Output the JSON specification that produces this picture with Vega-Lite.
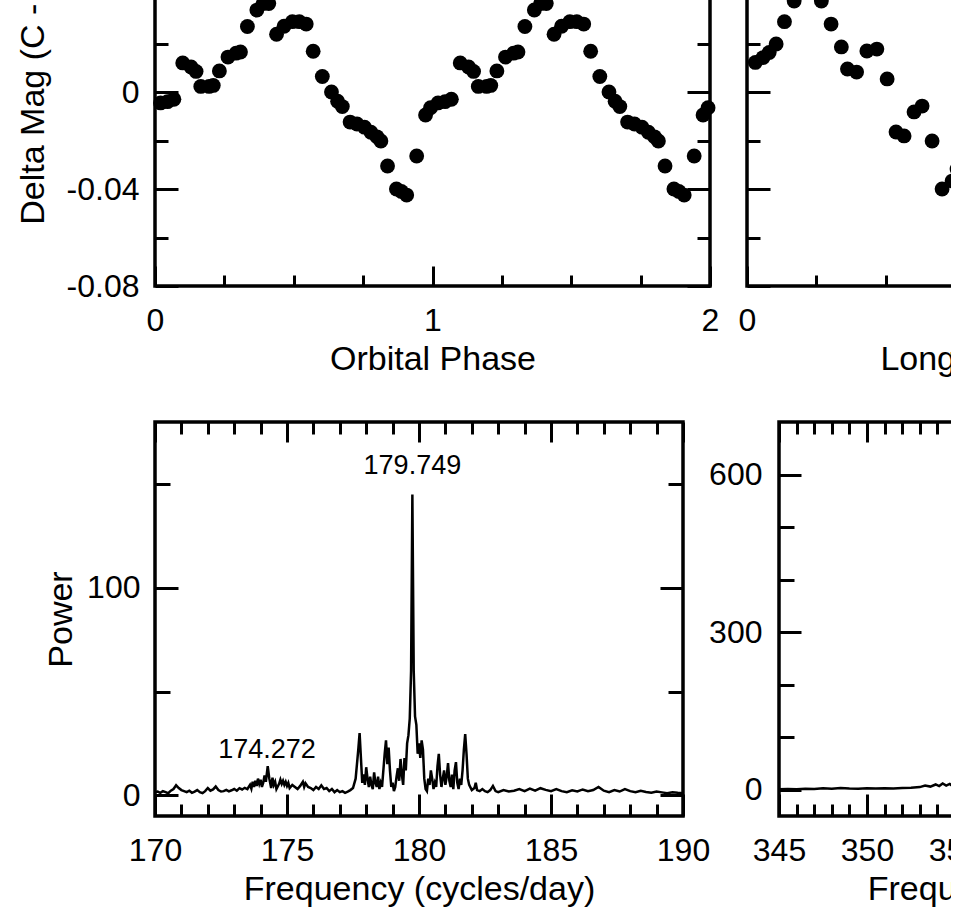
{
  "$schema": "https://vega.github.io/schema/vega-lite/v6.json",
  "autosize": {"type": "pad"},
  "padding": {"left": 14, "top": -106, "right": -385, "bottom": 0},
  "background": "white",
  "config": {
    "font": "Liberation Sans",
    "view": {"stroke": "black", "strokeWidth": 3.5},
    "axis": {
      "domain": false, "grid": false, "tickColor": "black", "tickWidth": 3,
      "labelFont": "Liberation Sans", "labelFontSize": 32, "labelColor": "black",
      "labelFlush": false, "labelOverlap": false,
      "titleFont": "Liberation Sans", "titleFontSize": 34, "titleFontWeight": "normal", "titleColor": "black"
    }
  },
  "datasets": {
    "orbital": [
      {"phase": 0.02, "mag": -0.0045}, {"phase": 0.045, "mag": -0.004}, {"phase": 0.068, "mag": -0.003},
      {"phase": 0.1, "mag": 0.012}, {"phase": 0.13, "mag": 0.0103}, {"phase": 0.148, "mag": 0.0085},
      {"phase": 0.165, "mag": 0.0023}, {"phase": 0.195, "mag": 0.0023}, {"phase": 0.21, "mag": 0.0027},
      {"phase": 0.232, "mag": 0.0087}, {"phase": 0.263, "mag": 0.0144}, {"phase": 0.292, "mag": 0.016},
      {"phase": 0.308, "mag": 0.0165}, {"phase": 0.333, "mag": 0.027}, {"phase": 0.367, "mag": 0.0338},
      {"phase": 0.39, "mag": 0.0365}, {"phase": 0.41, "mag": 0.0365}, {"phase": 0.438, "mag": 0.0238},
      {"phase": 0.465, "mag": 0.0271}, {"phase": 0.495, "mag": 0.029}, {"phase": 0.52, "mag": 0.029},
      {"phase": 0.545, "mag": 0.028}, {"phase": 0.57, "mag": 0.0168}, {"phase": 0.603, "mag": 0.0064},
      {"phase": 0.636, "mag": 0.0}, {"phase": 0.658, "mag": -0.0038}, {"phase": 0.675, "mag": -0.006},
      {"phase": 0.703, "mag": -0.0124}, {"phase": 0.728, "mag": -0.0132}, {"phase": 0.755, "mag": -0.0145},
      {"phase": 0.778, "mag": -0.0166}, {"phase": 0.8, "mag": -0.0185}, {"phase": 0.814, "mag": -0.0202},
      {"phase": 0.838, "mag": -0.0305}, {"phase": 0.87, "mag": -0.04}, {"phase": 0.888, "mag": -0.041},
      {"phase": 0.907, "mag": -0.0425}, {"phase": 0.943, "mag": -0.0264}, {"phase": 0.975, "mag": -0.0095},
      {"phase": 0.993, "mag": -0.0065},
      {"phase": 1.02, "mag": -0.0045}, {"phase": 1.045, "mag": -0.004}, {"phase": 1.068, "mag": -0.003},
      {"phase": 1.1, "mag": 0.012}, {"phase": 1.13, "mag": 0.0103}, {"phase": 1.148, "mag": 0.0085},
      {"phase": 1.165, "mag": 0.0023}, {"phase": 1.195, "mag": 0.0023}, {"phase": 1.21, "mag": 0.0027},
      {"phase": 1.232, "mag": 0.0087}, {"phase": 1.263, "mag": 0.0144}, {"phase": 1.292, "mag": 0.016},
      {"phase": 1.308, "mag": 0.0165}, {"phase": 1.333, "mag": 0.027}, {"phase": 1.367, "mag": 0.0338},
      {"phase": 1.39, "mag": 0.0365}, {"phase": 1.41, "mag": 0.0365}, {"phase": 1.438, "mag": 0.0238},
      {"phase": 1.465, "mag": 0.0271}, {"phase": 1.495, "mag": 0.029}, {"phase": 1.52, "mag": 0.029},
      {"phase": 1.545, "mag": 0.028}, {"phase": 1.57, "mag": 0.0168}, {"phase": 1.603, "mag": 0.0064},
      {"phase": 1.636, "mag": 0.0}, {"phase": 1.658, "mag": -0.0038}, {"phase": 1.675, "mag": -0.006},
      {"phase": 1.703, "mag": -0.0124}, {"phase": 1.728, "mag": -0.0132}, {"phase": 1.755, "mag": -0.0145},
      {"phase": 1.778, "mag": -0.0166}, {"phase": 1.8, "mag": -0.0185}, {"phase": 1.814, "mag": -0.0202},
      {"phase": 1.838, "mag": -0.0305}, {"phase": 1.87, "mag": -0.04}, {"phase": 1.888, "mag": -0.041},
      {"phase": 1.907, "mag": -0.0425}, {"phase": 1.943, "mag": -0.0264}, {"phase": 1.975, "mag": -0.0095},
      {"phase": 1.993, "mag": -0.0065}
    ],
    "longphase": [
      {"phase": 0.03, "mag": 0.0122}, {"phase": 0.058, "mag": 0.0142}, {"phase": 0.08, "mag": 0.0163},
      {"phase": 0.105, "mag": 0.0198}, {"phase": 0.135, "mag": 0.029}, {"phase": 0.17, "mag": 0.0375},
      {"phase": 0.268, "mag": 0.0375}, {"phase": 0.303, "mag": 0.028}, {"phase": 0.34, "mag": 0.0186},
      {"phase": 0.362, "mag": 0.0095}, {"phase": 0.395, "mag": 0.0082}, {"phase": 0.432, "mag": 0.0169},
      {"phase": 0.468, "mag": 0.0177}, {"phase": 0.505, "mag": 0.0054}, {"phase": 0.537, "mag": -0.0165},
      {"phase": 0.566, "mag": -0.0181}, {"phase": 0.602, "mag": -0.0082}, {"phase": 0.631, "mag": -0.0058},
      {"phase": 0.667, "mag": -0.0202}, {"phase": 0.703, "mag": -0.04}, {"phase": 0.739, "mag": -0.0367},
      {"phase": 0.757, "mag": -0.0318}
    ],
    "power1": [
      {"freq": 170.0, "power": 1.5}, {"freq": 170.1, "power": 1.8}, {"freq": 170.2, "power": 1.2}, {"freq": 170.3, "power": 2.0},
      {"freq": 170.4, "power": 1.5}, {"freq": 170.5, "power": 1.0}, {"freq": 170.6, "power": 2.2}, {"freq": 170.7, "power": 3.0},
      {"freq": 170.8, "power": 4.8}, {"freq": 170.9, "power": 3.5}, {"freq": 171.0, "power": 2.5}, {"freq": 171.1, "power": 2.0},
      {"freq": 171.2, "power": 1.5}, {"freq": 171.3, "power": 2.2}, {"freq": 171.4, "power": 1.2}, {"freq": 171.5, "power": 1.8},
      {"freq": 171.6, "power": 2.5}, {"freq": 171.7, "power": 1.5}, {"freq": 171.8, "power": 1.0}, {"freq": 171.9, "power": 2.0},
      {"freq": 172.0, "power": 3.5}, {"freq": 172.1, "power": 2.2}, {"freq": 172.2, "power": 2.8}, {"freq": 172.3, "power": 4.2},
      {"freq": 172.4, "power": 2.5}, {"freq": 172.5, "power": 1.8}, {"freq": 172.6, "power": 2.0}, {"freq": 172.7, "power": 2.6},
      {"freq": 172.8, "power": 1.9}, {"freq": 172.9, "power": 2.4}, {"freq": 173.0, "power": 3.0}, {"freq": 173.1, "power": 2.2},
      {"freq": 173.2, "power": 3.4}, {"freq": 173.3, "power": 2.8}, {"freq": 173.4, "power": 3.6}, {"freq": 173.5, "power": 3.0},
      {"freq": 173.6, "power": 5.0}, {"freq": 173.65, "power": 3.2}, {"freq": 173.7, "power": 6.5}, {"freq": 173.75, "power": 4.0},
      {"freq": 173.8, "power": 7.0}, {"freq": 173.85, "power": 4.5}, {"freq": 173.9, "power": 8.0}, {"freq": 173.95, "power": 5.5},
      {"freq": 174.0, "power": 7.5}, {"freq": 174.05, "power": 4.0}, {"freq": 174.1, "power": 6.0}, {"freq": 174.15, "power": 9.5},
      {"freq": 174.2, "power": 6.5}, {"freq": 174.27, "power": 14.0}, {"freq": 174.33, "power": 8.0}, {"freq": 174.4, "power": 3.5},
      {"freq": 174.45, "power": 8.5}, {"freq": 174.5, "power": 5.0}, {"freq": 174.55, "power": 6.5}, {"freq": 174.6, "power": 3.0},
      {"freq": 174.7, "power": 5.5}, {"freq": 174.75, "power": 7.5}, {"freq": 174.8, "power": 5.5}, {"freq": 174.85, "power": 7.0},
      {"freq": 174.9, "power": 5.0}, {"freq": 174.95, "power": 6.5}, {"freq": 175.0, "power": 4.5}, {"freq": 175.05, "power": 6.0},
      {"freq": 175.1, "power": 3.5}, {"freq": 175.2, "power": 5.0}, {"freq": 175.3, "power": 4.0}, {"freq": 175.4, "power": 3.0},
      {"freq": 175.5, "power": 4.5}, {"freq": 175.6, "power": 6.5}, {"freq": 175.65, "power": 4.0}, {"freq": 175.7, "power": 5.8},
      {"freq": 175.8, "power": 4.0}, {"freq": 175.9, "power": 3.5}, {"freq": 176.0, "power": 2.5}, {"freq": 176.1, "power": 4.0},
      {"freq": 176.2, "power": 3.0}, {"freq": 176.3, "power": 4.8}, {"freq": 176.4, "power": 3.0}, {"freq": 176.5, "power": 3.5},
      {"freq": 176.6, "power": 2.0}, {"freq": 176.7, "power": 3.0}, {"freq": 176.8, "power": 1.5}, {"freq": 176.9, "power": 2.5},
      {"freq": 177.0, "power": 1.5}, {"freq": 177.1, "power": 2.0}, {"freq": 177.2, "power": 1.2}, {"freq": 177.3, "power": 1.8},
      {"freq": 177.4, "power": 2.5}, {"freq": 177.5, "power": 3.5}, {"freq": 177.6, "power": 8}, {"freq": 177.7, "power": 22},
      {"freq": 177.75, "power": 30}, {"freq": 177.8, "power": 18}, {"freq": 177.85, "power": 6}, {"freq": 177.9, "power": 10},
      {"freq": 177.95, "power": 5}, {"freq": 178.0, "power": 13.5}, {"freq": 178.05, "power": 8}, {"freq": 178.1, "power": 4},
      {"freq": 178.15, "power": 9}, {"freq": 178.2, "power": 5}, {"freq": 178.25, "power": 3}, {"freq": 178.3, "power": 11},
      {"freq": 178.35, "power": 6}, {"freq": 178.4, "power": 4}, {"freq": 178.45, "power": 9}, {"freq": 178.5, "power": 3},
      {"freq": 178.55, "power": 6}, {"freq": 178.6, "power": 4}, {"freq": 178.7, "power": 20}, {"freq": 178.75, "power": 26.5},
      {"freq": 178.8, "power": 15}, {"freq": 178.85, "power": 23}, {"freq": 178.9, "power": 12}, {"freq": 178.95, "power": 4},
      {"freq": 179.0, "power": 6}, {"freq": 179.05, "power": 2}, {"freq": 179.1, "power": 4}, {"freq": 179.15, "power": 9},
      {"freq": 179.2, "power": 13}, {"freq": 179.25, "power": 7}, {"freq": 179.3, "power": 17.5}, {"freq": 179.35, "power": 10},
      {"freq": 179.4, "power": 5}, {"freq": 179.45, "power": 18}, {"freq": 179.5, "power": 12}, {"freq": 179.55, "power": 25},
      {"freq": 179.6, "power": 29}, {"freq": 179.65, "power": 37}, {"freq": 179.7, "power": 60}, {"freq": 179.749, "power": 145},
      {"freq": 179.8, "power": 60}, {"freq": 179.85, "power": 38}, {"freq": 179.9, "power": 34}, {"freq": 179.95, "power": 20},
      {"freq": 180.0, "power": 25}, {"freq": 180.05, "power": 18}, {"freq": 180.1, "power": 26.5}, {"freq": 180.15, "power": 22},
      {"freq": 180.2, "power": 8}, {"freq": 180.25, "power": 3}, {"freq": 180.3, "power": 2}, {"freq": 180.35, "power": 8},
      {"freq": 180.4, "power": 5}, {"freq": 180.45, "power": 12}, {"freq": 180.5, "power": 8}, {"freq": 180.55, "power": 3},
      {"freq": 180.6, "power": 6}, {"freq": 180.65, "power": 4}, {"freq": 180.7, "power": 14}, {"freq": 180.75, "power": 20},
      {"freq": 180.8, "power": 10}, {"freq": 180.85, "power": 4}, {"freq": 180.9, "power": 8}, {"freq": 180.95, "power": 12},
      {"freq": 181.0, "power": 5}, {"freq": 181.05, "power": 9}, {"freq": 181.1, "power": 15.5}, {"freq": 181.15, "power": 7},
      {"freq": 181.2, "power": 4}, {"freq": 181.25, "power": 10}, {"freq": 181.3, "power": 3}, {"freq": 181.35, "power": 12},
      {"freq": 181.4, "power": 16}, {"freq": 181.45, "power": 6}, {"freq": 181.5, "power": 3}, {"freq": 181.55, "power": 8},
      {"freq": 181.6, "power": 5}, {"freq": 181.65, "power": 12}, {"freq": 181.7, "power": 22}, {"freq": 181.75, "power": 29.5},
      {"freq": 181.8, "power": 20}, {"freq": 181.85, "power": 8}, {"freq": 181.9, "power": 5}, {"freq": 182.0, "power": 2.5},
      {"freq": 182.1, "power": 3.5}, {"freq": 182.15, "power": 6.0}, {"freq": 182.2, "power": 2.5}, {"freq": 182.3, "power": 2.0},
      {"freq": 182.4, "power": 3.0}, {"freq": 182.5, "power": 2.0}, {"freq": 182.6, "power": 1.5}, {"freq": 182.7, "power": 2.5},
      {"freq": 182.8, "power": 4.5}, {"freq": 182.9, "power": 2.0}, {"freq": 183.0, "power": 1.5}, {"freq": 183.2, "power": 2.5},
      {"freq": 183.4, "power": 1.8}, {"freq": 183.6, "power": 2.2}, {"freq": 183.8, "power": 3.0}, {"freq": 184.0, "power": 2.0},
      {"freq": 184.2, "power": 3.2}, {"freq": 184.4, "power": 2.2}, {"freq": 184.6, "power": 3.4}, {"freq": 184.8, "power": 2.6},
      {"freq": 185.0, "power": 2.0}, {"freq": 185.2, "power": 3.0}, {"freq": 185.4, "power": 2.0}, {"freq": 185.6, "power": 1.5},
      {"freq": 185.8, "power": 2.4}, {"freq": 186.0, "power": 1.8}, {"freq": 186.2, "power": 2.8}, {"freq": 186.4, "power": 2.0},
      {"freq": 186.6, "power": 2.5}, {"freq": 186.8, "power": 4.0}, {"freq": 187.0, "power": 2.2}, {"freq": 187.2, "power": 1.5},
      {"freq": 187.4, "power": 2.5}, {"freq": 187.6, "power": 1.8}, {"freq": 187.8, "power": 3.0}, {"freq": 188.0, "power": 2.0},
      {"freq": 188.2, "power": 1.5}, {"freq": 188.4, "power": 2.2}, {"freq": 188.6, "power": 1.6}, {"freq": 188.8, "power": 1.2},
      {"freq": 189.0, "power": 1.8}, {"freq": 189.2, "power": 1.4}, {"freq": 189.4, "power": 1.0}, {"freq": 189.6, "power": 1.5},
      {"freq": 189.8, "power": 1.2}, {"freq": 190.0, "power": 1.0}
    ],
    "power2": [
      {"freq": 345.0, "power": 1}, {"freq": 345.5, "power": 1.5}, {"freq": 346.0, "power": 1}, {"freq": 346.5, "power": 2},
      {"freq": 347.0, "power": 1.5}, {"freq": 347.5, "power": 3}, {"freq": 348.0, "power": 2}, {"freq": 348.5, "power": 3.5},
      {"freq": 349.0, "power": 2.5}, {"freq": 349.5, "power": 2}, {"freq": 350.0, "power": 3}, {"freq": 350.5, "power": 2.5},
      {"freq": 351.0, "power": 3}, {"freq": 351.5, "power": 2.5}, {"freq": 352.0, "power": 3.5}, {"freq": 352.5, "power": 4},
      {"freq": 353.0, "power": 5}, {"freq": 353.3, "power": 8}, {"freq": 353.6, "power": 6}, {"freq": 353.9, "power": 10},
      {"freq": 354.1, "power": 7}, {"freq": 354.3, "power": 12}, {"freq": 354.5, "power": 8}, {"freq": 354.7, "power": 11},
      {"freq": 354.9, "power": 6}, {"freq": 355.2, "power": 5}, {"freq": 355.5, "power": 8}, {"freq": 356.0, "power": 6}
    ],
    "labels1": [
      {"freq": 179.749, "power": 159, "text": "179.749"},
      {"freq": 174.24, "power": 22, "text": "174.272"}
    ]
  },
  "spacing": 40,
  "vconcat": [
    {
      "spacing": 15,
      "hconcat": [
        {
          "width": 555, "height": 388,
          "data": {"name": "orbital"},
          "layer": [
            {
              "mark": {"type": "point", "filled": true, "size": 220, "color": "black", "opacity": 1},
              "encoding": {
                "x": {"field": "phase", "type": "quantitative", "scale": {"domain": [0, 2], "nice": false, "zero": false},
                  "axis": {"orient": "bottom", "values": [0, 1, 2], "labelExpr": "'' + datum.value", "labelOverlap": false, "tickSize": 20, "offset": -20, "labelPadding": 19, "title": "Orbital Phase", "titlePadding": 6}},
                "y": {"field": "mag", "type": "quantitative", "scale": {"domain": [-0.08, 0.08], "nice": false, "zero": false},
                  "axis": {"orient": "left", "values": [-0.08, -0.04, 0], "tickSize": 23, "offset": -23, "labelPadding": 16,
                    "labelExpr": "datum.value < 0 ? '-' + format(-datum.value, '.2f') : '0'",
                    "title": "Delta Mag (C - V)", "titlePadding": 16}}
              }
            },
            {
              "mark": {"type": "point", "opacity": 0},
              "encoding": {
                "x": {"field": "phase", "type": "quantitative", "axis": {"orient": "bottom", "values": [0.25, 0.5, 0.75, 1.25, 1.5, 1.75], "tickSize": 11, "offset": -11, "labels": false, "title": null}},
                "y": {"field": "mag", "type": "quantitative", "axis": {"orient": "left", "values": [-0.06, -0.02, 0.02, 0.06], "tickSize": 13, "offset": -13, "labels": false, "title": null}}
              }
            },
            {
              "mark": {"type": "point", "opacity": 0},
              "encoding": {
                "x": {"field": "phase", "type": "quantitative", "axis": {"orient": "top", "values": [0, 1, 2], "tickSize": 20, "offset": -20, "labels": false, "title": null}},
                "y": {"field": "mag", "type": "quantitative", "axis": {"orient": "right", "values": [-0.08, -0.04, 0, 0.04, 0.08], "tickSize": 23, "offset": -23, "labels": false, "title": null}}
              }
            },
            {
              "mark": {"type": "point", "opacity": 0},
              "encoding": {
                "x": {"field": "phase", "type": "quantitative", "axis": {"orient": "top", "values": [0.25, 0.5, 0.75, 1.25, 1.5, 1.75], "tickSize": 11, "offset": -11, "labels": false, "title": null}},
                "y": {"field": "mag", "type": "quantitative", "axis": {"orient": "right", "values": [-0.06, -0.02, 0.02, 0.06], "tickSize": 13, "offset": -13, "labels": false, "title": null}}
              }
            },
            {
              "mark": {"type": "point", "opacity": 0},
              "encoding": {
                "x": {"field": "phase", "type": "quantitative", "axis": null},
                "y": {"field": "mag", "type": "quantitative", "axis": {"orient": "left", "values": [0.04, 0.08], "tickSize": 23, "offset": -23, "labels": false, "title": null}}
              }
            }
          ],
          "resolve": {"axis": {"x": "independent", "y": "independent"}}
        },
        {
          "width": 555, "height": 388,
          "data": {"name": "longphase"},
          "layer": [
            {
              "mark": {"type": "point", "filled": true, "size": 220, "color": "black", "opacity": 1},
              "encoding": {
                "x": {"field": "phase", "type": "quantitative", "scale": {"domain": [0, 2], "nice": false, "zero": false},
                  "axis": {"orient": "bottom", "values": [0, 1, 2], "labelExpr": "'' + datum.value", "labelOverlap": false, "tickSize": 20, "offset": -20, "labelPadding": 19, "title": "Long Period Phase", "titlePadding": 6}},
                "y": {"field": "mag", "type": "quantitative", "scale": {"domain": [-0.08, 0.08], "nice": false, "zero": false},
                  "axis": {"orient": "left", "values": [-0.08, -0.04, 0, 0.04, 0.08], "tickSize": 23, "offset": -23, "labels": false, "title": null}}
              }
            },
            {
              "mark": {"type": "point", "opacity": 0},
              "encoding": {
                "x": {"field": "phase", "type": "quantitative", "axis": {"orient": "bottom", "values": [0.25, 0.5, 0.75, 1.25, 1.5, 1.75], "tickSize": 11, "offset": -11, "labels": false, "title": null}},
                "y": {"field": "mag", "type": "quantitative", "axis": {"orient": "left", "values": [-0.06, -0.02, 0.02, 0.06], "tickSize": 13, "offset": -13, "labels": false, "title": null}}
              }
            },
            {
              "mark": {"type": "point", "opacity": 0},
              "encoding": {
                "x": {"field": "phase", "type": "quantitative", "axis": {"orient": "top", "values": [0, 1, 2], "tickSize": 20, "offset": -20, "labels": false, "title": null}},
                "y": {"field": "mag", "type": "quantitative", "axis": {"orient": "right", "values": [-0.08, -0.04, 0, 0.04, 0.08], "tickSize": 23, "offset": -23, "labels": false, "title": null}}
              }
            },
            {
              "mark": {"type": "point", "opacity": 0},
              "encoding": {
                "x": {"field": "phase", "type": "quantitative", "axis": {"orient": "top", "values": [0.25, 0.5, 0.75, 1.25, 1.5, 1.75], "tickSize": 11, "offset": -11, "labels": false, "title": null}},
                "y": {"field": "mag", "type": "quantitative", "axis": {"orient": "right", "values": [-0.06, -0.02, 0.02, 0.06], "tickSize": 13, "offset": -13, "labels": false, "title": null}}
              }
            }
          ],
          "resolve": {"axis": {"x": "independent", "y": "independent"}}
        }
      ]
    },
    {
      "spacing": -6,
      "hconcat": [
        {
          "width": 528, "height": 394,
          "data": {"name": "power1"},
          "layer": [
            {
              "mark": {"type": "line", "color": "black", "strokeWidth": 2.5},
              "encoding": {
                "x": {"field": "freq", "type": "quantitative", "scale": {"domain": [170, 190], "nice": false, "zero": false},
                  "axis": {"orient": "bottom", "values": [170, 175, 180, 185, 190], "format": "d", "tickSize": 22, "offset": -22, "labelPadding": 19, "title": "Frequency (cycles/day)", "titlePadding": 6}},
                "y": {"field": "power", "type": "quantitative", "scale": {"domain": [-10, 180], "nice": false, "zero": false},
                  "axis": {"orient": "left", "values": [0, 100], "format": "d", "tickSize": 23, "offset": -23, "labelPadding": 15, "title": "Power", "titlePadding": 8}}
              }
            },
            {
              "mark": {"type": "line", "opacity": 0},
              "encoding": {
                "x": {"field": "freq", "type": "quantitative", "axis": {"orient": "bottom", "values": [171, 172, 173, 174, 176, 177, 178, 179, 181, 182, 183, 184, 186, 187, 188, 189], "tickSize": 12, "offset": -12, "labels": false, "title": null}},
                "y": {"field": "power", "type": "quantitative", "axis": {"orient": "left", "values": [50, 150], "tickSize": 15, "offset": -15, "labels": false, "title": null}}
              }
            },
            {
              "mark": {"type": "line", "opacity": 0},
              "encoding": {
                "x": {"field": "freq", "type": "quantitative", "axis": {"orient": "top", "values": [170, 175, 180, 185, 190], "tickSize": 20, "offset": -20, "labels": false, "title": null}},
                "y": {"field": "power", "type": "quantitative", "axis": {"orient": "right", "values": [0, 100], "tickSize": 23, "offset": -23, "labels": false, "title": null}}
              }
            },
            {
              "mark": {"type": "line", "opacity": 0},
              "encoding": {
                "x": {"field": "freq", "type": "quantitative", "axis": {"orient": "top", "values": [171, 172, 173, 174, 176, 177, 178, 179, 181, 182, 183, 184, 186, 187, 188, 189], "tickSize": 12, "offset": -12, "labels": false, "title": null}},
                "y": {"field": "power", "type": "quantitative", "axis": {"orient": "right", "values": [50, 150], "tickSize": 15, "offset": -15, "labels": false, "title": null}}
              }
            },
            {
              "data": {"name": "labels1"},
              "mark": {"type": "text", "font": "Liberation Sans", "fontSize": 27, "color": "black", "baseline": "middle", "align": "center"},
              "encoding": {
                "x": {"field": "freq", "type": "quantitative", "axis": null},
                "y": {"field": "power", "type": "quantitative", "axis": null},
                "text": {"field": "text"}
              }
            }
          ],
          "resolve": {"axis": {"x": "independent", "y": "independent"}}
        },
        {
          "width": 528, "height": 394,
          "data": {"name": "power2"},
          "layer": [
            {
              "mark": {"type": "line", "color": "black", "strokeWidth": 2.5},
              "encoding": {
                "x": {"field": "freq", "type": "quantitative", "scale": {"domain": [345, 375], "nice": false, "zero": false},
                  "axis": {"orient": "bottom", "values": [345, 350, 355, 360, 365, 370, 375], "format": "d", "tickSize": 22, "offset": -22, "labelPadding": 19, "title": "Frequency (cycles/day)", "titlePadding": 6}},
                "y": {"field": "power", "type": "quantitative", "scale": {"domain": [-50, 700], "nice": false, "zero": false},
                  "axis": {"orient": "left", "values": [0, 300, 600], "format": "d", "tickSize": 22, "offset": -22, "labelPadding": 17, "title": null}}
              }
            },
            {
              "mark": {"type": "line", "opacity": 0},
              "encoding": {
                "x": {"field": "freq", "type": "quantitative", "axis": {"orient": "bottom", "values": [346, 347, 348, 349, 351, 352, 353, 354, 356, 357, 358, 359, 361, 362, 363, 364, 366, 367, 368, 369, 371, 372, 373, 374], "tickSize": 12, "offset": -12, "labels": false, "title": null}},
                "y": {"field": "power", "type": "quantitative", "axis": {"orient": "left", "values": [100, 200, 400, 500], "tickSize": 15, "offset": -15, "labels": false, "title": null}}
              }
            },
            {
              "mark": {"type": "line", "opacity": 0},
              "encoding": {
                "x": {"field": "freq", "type": "quantitative", "axis": {"orient": "top", "values": [345, 350, 355, 360, 365, 370, 375], "tickSize": 20, "offset": -20, "labels": false, "title": null}},
                "y": {"field": "power", "type": "quantitative", "axis": {"orient": "right", "values": [0, 300, 600], "tickSize": 22, "offset": -22, "labels": false, "title": null}}
              }
            },
            {
              "mark": {"type": "line", "opacity": 0},
              "encoding": {
                "x": {"field": "freq", "type": "quantitative", "axis": {"orient": "top", "values": [346, 347, 348, 349, 351, 352, 353, 354, 356, 357, 358, 359, 361, 362, 363, 364, 366, 367, 368, 369, 371, 372, 373, 374], "tickSize": 12, "offset": -12, "labels": false, "title": null}},
                "y": {"field": "power", "type": "quantitative", "axis": {"orient": "right", "values": [100, 200, 400, 500], "tickSize": 15, "offset": -15, "labels": false, "title": null}}
              }
            }
          ],
          "resolve": {"axis": {"x": "independent", "y": "independent"}}
        }
      ]
    }
  ]
}
